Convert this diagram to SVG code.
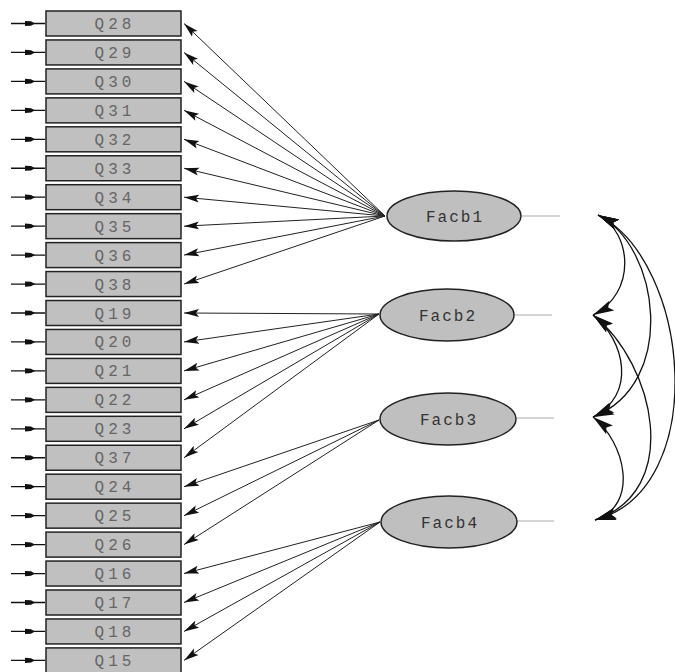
<svg xmlns="http://www.w3.org/2000/svg" width="675" height="672" viewBox="0 0 675 672">
<defs>
<style>
.box{fill:#c0c0c0;stroke:#222;stroke-width:1.5}
.lbl{font-family:"Liberation Mono","DejaVu Sans Mono",monospace;font-size:16px;fill:#666;letter-spacing:4px;text-anchor:middle}
.flbl{font-family:"Liberation Mono","DejaVu Sans Mono",monospace;font-size:16px;fill:#333;letter-spacing:2px;text-anchor:middle}
.ell{fill:#bfbfbf;stroke:#222;stroke-width:1.5}
.stub{stroke:#aaa;stroke-width:1}
.ld{stroke:#222;stroke-width:1;fill:none;marker-end:url(#ah)}
.err{stroke:#111;stroke-width:1.3}
.eh{fill:#111}
.cov{fill:none;stroke:#111;stroke-width:1.3;marker-start:url(#ch);marker-end:url(#ch)}
</style>
<marker id="ah" viewBox="-15 -5 16 10" refX="0" refY="0" markerWidth="16" markerHeight="10" markerUnits="userSpaceOnUse" orient="auto">
<path d="M0,0 L-15,-4 L-12,0 L-15,4 Z" fill="#111"/>
</marker>
<marker id="ch" viewBox="-22 -7 23 14" refX="0" refY="0" markerWidth="23" markerHeight="14" markerUnits="userSpaceOnUse" orient="auto-start-reverse">
<path d="M0,0 L-21,-5.5 L-17,0 L-21,5.5 Z" fill="#111"/>
</marker>
<path id="eh" d="M0,-2.6 L6,-2.2 L10,0 L6,2.2 L0,2.6 Z"/>
</defs>
<rect width="675" height="672" fill="#fff"/>

<g id="connectors">
<g id="errors">
<line class="err" x1="11" y1="23.5" x2="45" y2="23.5"/><use href="#eh" class="eh" x="25" y="23.5"/>
<line class="err" x1="11" y1="52.45" x2="45" y2="52.45"/><use href="#eh" class="eh" x="25" y="52.45"/>
<line class="err" x1="11" y1="81.4" x2="45" y2="81.4"/><use href="#eh" class="eh" x="25" y="81.4"/>
<line class="err" x1="11" y1="110.35" x2="45" y2="110.35"/><use href="#eh" class="eh" x="25" y="110.35"/>
<line class="err" x1="11" y1="139.3" x2="45" y2="139.3"/><use href="#eh" class="eh" x="25" y="139.3"/>
<line class="err" x1="11" y1="168.25" x2="45" y2="168.25"/><use href="#eh" class="eh" x="25" y="168.25"/>
<line class="err" x1="11" y1="197.2" x2="45" y2="197.2"/><use href="#eh" class="eh" x="25" y="197.2"/>
<line class="err" x1="11" y1="226.15" x2="45" y2="226.15"/><use href="#eh" class="eh" x="25" y="226.15"/>
<line class="err" x1="11" y1="255.1" x2="45" y2="255.1"/><use href="#eh" class="eh" x="25" y="255.1"/>
<line class="err" x1="11" y1="284.05" x2="45" y2="284.05"/><use href="#eh" class="eh" x="25" y="284.05"/>
<line class="err" x1="11" y1="313" x2="45" y2="313"/><use href="#eh" class="eh" x="25" y="313"/>
<line class="err" x1="11" y1="341.95" x2="45" y2="341.95"/><use href="#eh" class="eh" x="25" y="341.95"/>
<line class="err" x1="11" y1="370.9" x2="45" y2="370.9"/><use href="#eh" class="eh" x="25" y="370.9"/>
<line class="err" x1="11" y1="399.85" x2="45" y2="399.85"/><use href="#eh" class="eh" x="25" y="399.85"/>
<line class="err" x1="11" y1="428.8" x2="45" y2="428.8"/><use href="#eh" class="eh" x="25" y="428.8"/>
<line class="err" x1="11" y1="457.75" x2="45" y2="457.75"/><use href="#eh" class="eh" x="25" y="457.75"/>
<line class="err" x1="11" y1="486.7" x2="45" y2="486.7"/><use href="#eh" class="eh" x="25" y="486.7"/>
<line class="err" x1="11" y1="515.65" x2="45" y2="515.65"/><use href="#eh" class="eh" x="25" y="515.65"/>
<line class="err" x1="11" y1="544.6" x2="45" y2="544.6"/><use href="#eh" class="eh" x="25" y="544.6"/>
<line class="err" x1="11" y1="573.55" x2="45" y2="573.55"/><use href="#eh" class="eh" x="25" y="573.55"/>
<line class="err" x1="11" y1="602.5" x2="45" y2="602.5"/><use href="#eh" class="eh" x="25" y="602.5"/>
<line class="err" x1="11" y1="631.45" x2="45" y2="631.45"/><use href="#eh" class="eh" x="25" y="631.45"/>
<line class="err" x1="11" y1="660.4" x2="45" y2="660.4"/><use href="#eh" class="eh" x="25" y="660.4"/>
</g>
<g id="loadings">
<line class="ld" x1="385" y1="216" x2="184" y2="23.5"/>
<line class="ld" x1="385" y1="216" x2="184" y2="52.45"/>
<line class="ld" x1="385" y1="216" x2="184" y2="81.4"/>
<line class="ld" x1="385" y1="216" x2="184" y2="110.35"/>
<line class="ld" x1="385" y1="216" x2="184" y2="139.3"/>
<line class="ld" x1="385" y1="216" x2="184" y2="168.25"/>
<line class="ld" x1="385" y1="216" x2="184" y2="197.2"/>
<line class="ld" x1="385" y1="216" x2="184" y2="226.15"/>
<line class="ld" x1="385" y1="216" x2="184" y2="255.1"/>
<line class="ld" x1="385" y1="216" x2="184" y2="284.05"/>
<line class="ld" x1="379" y1="314" x2="184" y2="313"/>
<line class="ld" x1="379" y1="314" x2="184" y2="341.95"/>
<line class="ld" x1="379" y1="314" x2="184" y2="370.9"/>
<line class="ld" x1="379" y1="314" x2="184" y2="399.85"/>
<line class="ld" x1="379" y1="314" x2="184" y2="428.8"/>
<line class="ld" x1="379" y1="314" x2="184" y2="457.75"/>
<line class="ld" x1="379" y1="420" x2="184" y2="486.7"/>
<line class="ld" x1="379" y1="420" x2="184" y2="515.65"/>
<line class="ld" x1="379" y1="420" x2="184" y2="544.6"/>
<line class="ld" x1="380" y1="522" x2="184" y2="573.55"/>
<line class="ld" x1="380" y1="522" x2="184" y2="602.5"/>
<line class="ld" x1="380" y1="522" x2="184" y2="631.45"/>
<line class="ld" x1="380" y1="522" x2="184" y2="660.4"/>
</g>
<g id="stubs">
<line class="stub" x1="522" y1="216" x2="560" y2="216"/>
<line class="stub" x1="515" y1="315" x2="552" y2="315"/>
<line class="stub" x1="517" y1="418" x2="554" y2="418"/>
<line class="stub" x1="517" y1="521" x2="554" y2="521"/>
</g>
<g id="covariances">
<path class="cov" d="M598,215 C632,232 637,293 593,315"/>
<path class="cov" d="M593,315 C625,340 637,395 593,417"/>
<path class="cov" d="M593,417 C625,442 640,505 595,520"/>
<path class="cov" d="M598,215 C660,246 678,384 593,417"/>
<path class="cov" d="M593,315 C655,364 683,491 595,520"/>
<path class="cov" d="M598,215 C690,261 712,489 595,520"/>
</g>
</g>

<g id="Q28"><rect class="box" x="46" y="11" width="135" height="25"/><text class="lbl" x="115" y="29">Q28</text></g>
<g id="Q29"><rect class="box" x="46" y="39.95" width="135" height="25"/><text class="lbl" x="115" y="57.95">Q29</text></g>
<g id="Q30"><rect class="box" x="46" y="68.9" width="135" height="25"/><text class="lbl" x="115" y="86.9">Q30</text></g>
<g id="Q31"><rect class="box" x="46" y="97.85" width="135" height="25"/><text class="lbl" x="115" y="115.85">Q31</text></g>
<g id="Q32"><rect class="box" x="46" y="126.8" width="135" height="25"/><text class="lbl" x="115" y="144.8">Q32</text></g>
<g id="Q33"><rect class="box" x="46" y="155.75" width="135" height="25"/><text class="lbl" x="115" y="173.75">Q33</text></g>
<g id="Q34"><rect class="box" x="46" y="184.7" width="135" height="25"/><text class="lbl" x="115" y="202.7">Q34</text></g>
<g id="Q35"><rect class="box" x="46" y="213.65" width="135" height="25"/><text class="lbl" x="115" y="231.65">Q35</text></g>
<g id="Q36"><rect class="box" x="46" y="242.6" width="135" height="25"/><text class="lbl" x="115" y="260.6">Q36</text></g>
<g id="Q38"><rect class="box" x="46" y="271.55" width="135" height="25"/><text class="lbl" x="115" y="289.55">Q38</text></g>
<g id="Q19"><rect class="box" x="46" y="300.5" width="135" height="25"/><text class="lbl" x="115" y="318.5">Q19</text></g>
<g id="Q20"><rect class="box" x="46" y="329.45" width="135" height="25"/><text class="lbl" x="115" y="347.45">Q20</text></g>
<g id="Q21"><rect class="box" x="46" y="358.4" width="135" height="25"/><text class="lbl" x="115" y="376.4">Q21</text></g>
<g id="Q22"><rect class="box" x="46" y="387.35" width="135" height="25"/><text class="lbl" x="115" y="405.35">Q22</text></g>
<g id="Q23"><rect class="box" x="46" y="416.3" width="135" height="25"/><text class="lbl" x="115" y="434.3">Q23</text></g>
<g id="Q37"><rect class="box" x="46" y="445.25" width="135" height="25"/><text class="lbl" x="115" y="463.25">Q37</text></g>
<g id="Q24"><rect class="box" x="46" y="474.2" width="135" height="25"/><text class="lbl" x="115" y="492.2">Q24</text></g>
<g id="Q25"><rect class="box" x="46" y="503.15" width="135" height="25"/><text class="lbl" x="115" y="521.15">Q25</text></g>
<g id="Q26"><rect class="box" x="46" y="532.1" width="135" height="25"/><text class="lbl" x="115" y="550.1">Q26</text></g>
<g id="Q16"><rect class="box" x="46" y="561.05" width="135" height="25"/><text class="lbl" x="115" y="579.05">Q16</text></g>
<g id="Q17"><rect class="box" x="46" y="590" width="135" height="25"/><text class="lbl" x="115" y="608">Q17</text></g>
<g id="Q18"><rect class="box" x="46" y="618.95" width="135" height="25"/><text class="lbl" x="115" y="636.95">Q18</text></g>
<g id="Q15"><rect class="box" x="46" y="647.9" width="135" height="25"/><text class="lbl" x="115" y="665.9">Q15</text></g>

<g id="Facb1"><ellipse class="ell" cx="454" cy="216" rx="67" ry="25"/><text class="flbl" x="455" y="221.5">Facb1</text></g>
<g id="Facb2"><ellipse class="ell" cx="447" cy="315" rx="67" ry="26"/><text class="flbl" x="448" y="320.5">Facb2</text></g>
<g id="Facb3"><ellipse class="ell" cx="448" cy="419" rx="68" ry="26"/><text class="flbl" x="449" y="424.5">Facb3</text></g>
<g id="Facb4"><ellipse class="ell" cx="449" cy="522" rx="68" ry="26"/><text class="flbl" x="450" y="527.5">Facb4</text></g>
</svg>
